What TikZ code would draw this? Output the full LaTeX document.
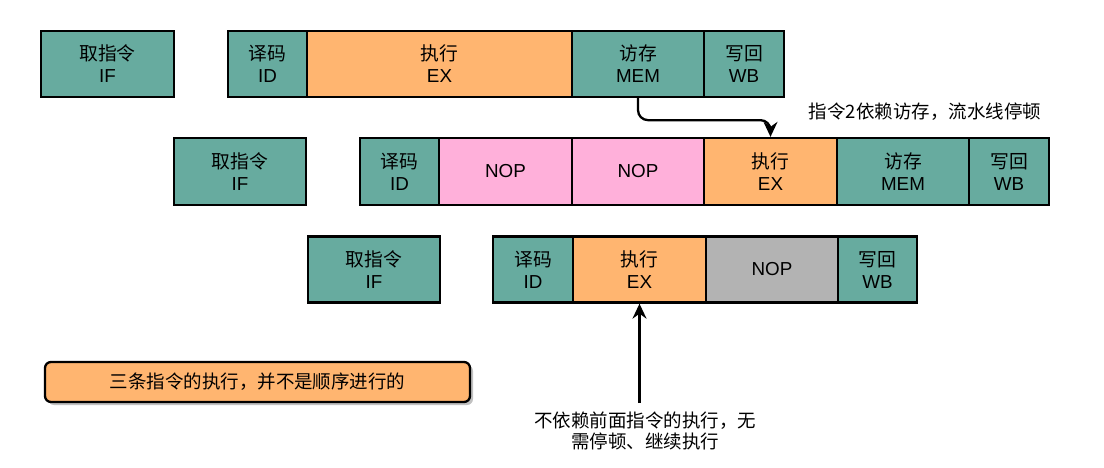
\documentclass[tikz,border=0pt]{standalone}
\usepackage{fontspec}
\setmainfont{Liberation Sans}
\newfontfamily\cjk{Noto Sans CJK SC}
\usetikzlibrary{arrows.meta,shadows}
\definecolor{tealc}{HTML}{67AB9F}
\definecolor{orangec}{HTML}{FFB570}
\definecolor{pinkc}{HTML}{FFB0DA}
\definecolor{grayc}{HTML}{B3B3B3}
\tikzset{
  stage/.style={draw=black, line width=2.3pt, inner sep=0pt, align=center,
    font=\fontsize{18.8}{22}\selectfont, text=black},
  r1/.style={stage, minimum height=66pt},
  r2/.style={stage, minimum height=67pt},
  r3/.style={stage, minimum height=66pt},
  tl/.style={fill=tealc},
  og/.style={fill=orangec},
  pk/.style={fill=pinkc},
  gy/.style={fill=grayc},
  note/.style={font=\fontsize{18.5}{21}\selectfont\cjk, align=center, text=black},
  arr/.style={line width=2.3pt, -{Stealth[length=15pt,width=14pt,inset=5pt]}}
}
\begin{document}
\begin{tikzpicture}[x=1pt,y=-1pt]
\useasboundingbox (0,0) rectangle (1104,467);
% row 1
\node[r1,tl,minimum width=133pt] (if1) at (107.5,64) {{\cjk 取指令}\\IF};
\node[r1,tl,minimum width=79pt] (id1) at (267.5,64) {{\cjk 译码}\\ID};
\node[r1,og,minimum width=265pt] (ex1) at (439.5,64) {{\cjk 执行}\\EX};
\node[r1,tl,minimum width=132pt] (mem1) at (638,64) {{\cjk 访存}\\MEM};
\node[r1,tl,minimum width=80pt] (wb1) at (744,64) {{\cjk 写回}\\WB};
% row 2
\node[r2,tl,minimum width=132pt] (if2) at (240,171.5) {{\cjk 取指令}\\IF};
\node[r2,tl,minimum width=79pt] (id2) at (399.5,171.5) {{\cjk 译码}\\ID};
\node[r2,pk,minimum width=133pt] (nopa) at (505.5,171.5) {NOP};
\node[r2,pk,minimum width=132pt] (nopb) at (638,171.5) {NOP};
\node[r2,og,minimum width=133pt] (ex2) at (770.5,171.5) {{\cjk 执行}\\EX};
\node[r2,tl,minimum width=132pt] (mem2) at (903,171.5) {{\cjk 访存}\\MEM};
\node[r2,tl,minimum width=80pt] (wb2) at (1009,171.5) {{\cjk 写回}\\WB};
% row 3
\node[r3,tl,minimum width=132pt] (if3) at (374,269.5) {{\cjk 取指令}\\IF};
\node[r3,tl,minimum width=80pt] (id3) at (533,269.5) {{\cjk 译码}\\ID};
\node[r3,og,minimum width=133pt] (ex3) at (639.5,269.5) {{\cjk 执行}\\EX};
\node[r3,gy,minimum width=132pt] (nop3) at (772,269.5) {NOP};
\node[r3,tl,minimum width=79pt] (wb3) at (877.5,269.5) {{\cjk 写回}\\WB};
% arrow 1
\draw[arr, rounded corners=10pt] (mem1.south) -- ++(0,22) -| (ex2.north);
\node[note] (lab1) at (925,112) {指令2依赖访存，流水线停顿};
% arrow 2
\coordinate (a2) at (639.5,403);
\draw[arr] (a2) -- (ex3.south);
\node[note] (lab2) at (645,431) {不依赖前面指令的执行，无\\需停顿、继续执行};
% summary box
\node[draw=black, line width=2.3pt, fill=orangec, rounded corners=6pt,
  minimum width=425pt, minimum height=40pt, note,
  drop shadow={shadow xshift=3pt, shadow yshift=-3pt, fill=black!30, opacity=0.8}]
  (sum) at (257.5,382) {三条指令的执行，并不是顺序进行的};
\end{tikzpicture}
\end{document}
